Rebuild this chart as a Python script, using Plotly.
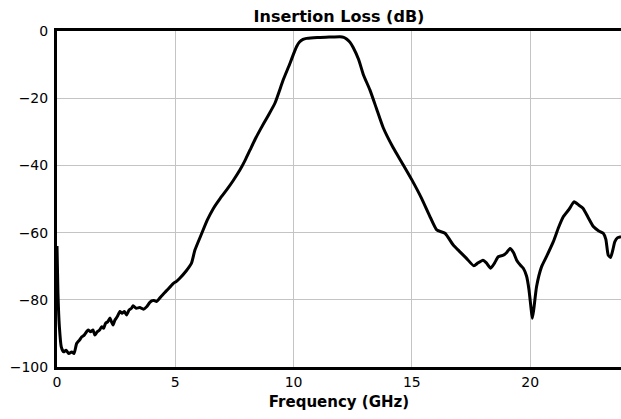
import plotly.graph_objects as go

freq_ghz = [0, 0.04, 0.1, 0.18, 0.28, 0.38, 0.5, 0.62, 0.72, 0.83, 0.95, 1.05, 1.15, 1.25, 1.32,
            1.42, 1.52, 1.6, 1.7, 1.8, 1.89, 1.97, 2.05, 2.15, 2.24, 2.3, 2.37, 2.45, 2.55, 2.66,
            2.75, 2.85, 2.94, 3.05, 3.15, 3.22, 3.35, 3.5, 3.65, 3.8, 3.92, 4.0, 4.1, 4.21, 4.4,
            4.6, 4.8, 4.92, 5.05, 5.2, 5.45, 5.69, 5.83, 6.12, 6.35, 6.61, 6.9, 7.17, 7.45, 7.73,
            7.95, 8.16, 8.37, 8.58, 8.9, 9.21, 9.56, 9.85, 10.0, 10.13, 10.25, 10.4, 10.55, 11.0,
            11.5, 11.96, 12.12, 12.24, 12.38, 12.52, 12.75, 12.95, 13.23, 13.5, 13.79, 14.2, 14.64,
            15.0, 15.41, 15.75, 16.05, 16.4, 16.75, 17.0, 17.3, 17.62, 17.8, 18.0, 18.15, 18.33,
            18.5, 18.65, 18.87, 19.0, 19.15, 19.3, 19.43, 19.6, 19.71, 19.85, 19.95, 20.03, 20.09,
            20.15, 20.27, 20.48, 20.7, 20.98, 21.2, 21.4, 21.65, 21.86, 22.05, 22.24, 22.45, 22.67,
            22.9, 23.09, 23.2, 23.3, 23.4, 23.5, 23.58, 23.7, 23.84]

loss_db = [-64, -78, -88, -94, -95.5, -95, -96, -95.5, -96, -93, -92, -91, -90.5, -89.5, -89,
           -89.5, -89, -90.5, -89.5, -89, -88, -88.5, -87, -86.5, -85.4, -86.5, -87.5, -86, -85, -83.5,
           -84, -83.5, -84.5, -83, -82.5, -81.8, -82.5, -82.3, -82.8, -82, -80.8, -80.3, -80.2, -80.5, -79,
           -77.5, -76, -75.1, -74.5, -73.5, -71.5, -69, -65.2, -60.2, -56.3, -52.8, -49.8, -47.3, -44.5, -41.4,
           -38.5, -35.4, -32.3, -29.5, -25.5, -21.5, -14.6, -9.6, -6.8, -4.6, -3.3, -2.5, -2.2, -1.9,
           -1.8, -1.7, -1.9, -2.4, -3.3, -4.9, -8.5, -13, -17.6, -23, -28.8, -34.6, -39.9,
           -44.3, -49.8, -55, -59.2, -60.2, -63.7, -65.5, -67.6, -69.9, -69, -68.2, -69, -70.6,
           -69, -67.2, -66.7, -66, -64.7, -66, -68.2, -69.8, -70.6, -73, -77, -82, -85.5,
           -83, -76.1, -70.2, -67, -62.7, -58.5, -55.3, -53, -50.8, -51.8, -52.8, -55.5, -58.2,
           -59.5, -60.2, -62, -66.7, -67.4, -65, -62.7, -61.5, -61.2]

x_ticks = [0, 5, 10, 15, 20]
y_ticks = [0, -20, -40, -60, -80, -100]

font_family = "DejaVu Sans, sans-serif"

fig = go.Figure(go.Scatter(
    x=freq_ghz, y=loss_db, mode="lines",
    line=dict(color="black", width=3, shape="spline", smoothing=0.5),
    showlegend=False, hoverinfo="skip",
))

fig.update_layout(
    width=621, height=419,
    margin=dict(l=57, r=0, t=31, b=52),
    paper_bgcolor="white", plot_bgcolor="white",
    font=dict(family=font_family, size=14, color="black"),
    title=dict(text="<b>Insertion Loss (dB)</b>", x=(57 + 621) / 2 / 621, xanchor="center",
               y=1 - 16 / 419, yanchor="middle", font=dict(size=16, family=font_family, color="black")),
)

fig.update_xaxes(
    range=[0, 23.84], tickvals=x_ticks, ticktext=[str(v) for v in x_ticks],
    showgrid=True, gridcolor="#c4c4c4", gridwidth=1,
    showline=True, linecolor="black", linewidth=3, mirror=True,
    ticks="", zeroline=False, tickfont=dict(size=14),
    title=dict(text="<b>Frequency (GHz)</b>", font=dict(size=15, family=font_family), standoff=8),
)
fig.update_yaxes(
    range=[-100, 0], tickvals=y_ticks, ticktext=["0", "\u221220", "\u221240", "\u221260", "\u221280", "\u2212100"],
    showgrid=True, gridcolor="#c4c4c4", gridwidth=1,
    showline=True, linecolor="black", linewidth=3,
    ticks="", zeroline=False, tickfont=dict(size=14), ticklabelstandoff=3,
)

fig.write_html("out.html", config={"displayModeBar": False},
               post_script="document.body.style.margin='0';document.body.style.overflow='hidden';")
